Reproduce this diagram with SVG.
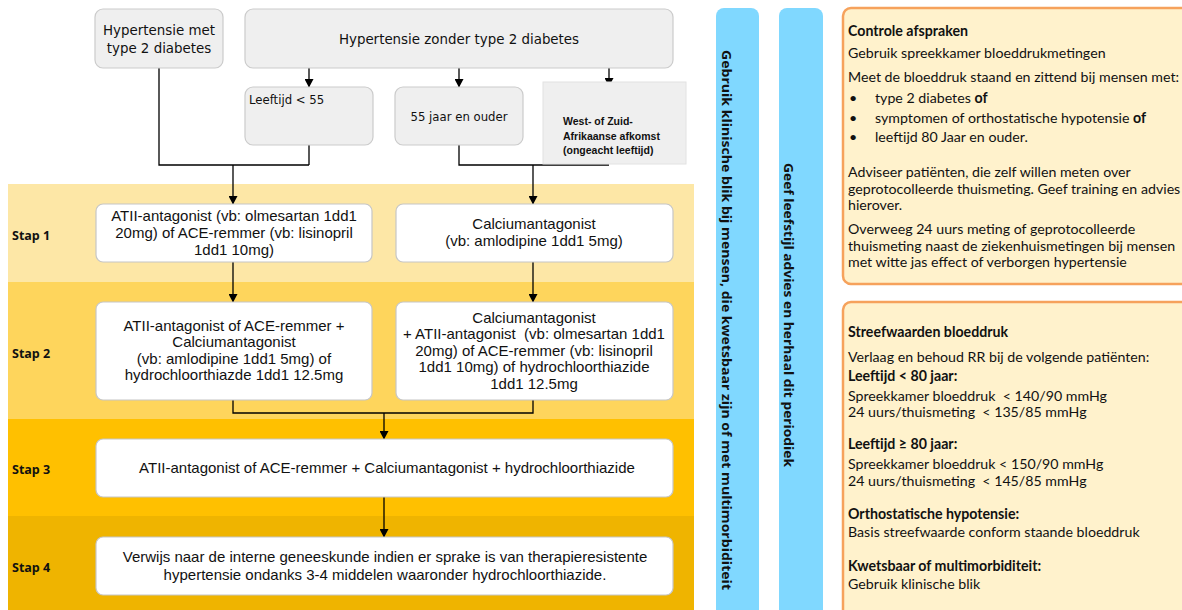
<svg xmlns="http://www.w3.org/2000/svg" width="1182" height="610" viewBox="0 0 1182 610">
<defs>
<marker id="arr" markerWidth="9" markerHeight="9" refX="8" refY="4.5" orient="auto" markerUnits="userSpaceOnUse">
<path d="M0,0 L8.5,4.5 L0,9 z" fill="#000"/>
</marker>
</defs>
<style>
.gbox{fill:#efefef;stroke:#cbcbcb;stroke-width:1.2}
.wbox{fill:#ffffff;stroke:#c6c6c6;stroke-width:1.2}
.tt{font-family:"DejaVu Sans",sans-serif;font-size:13.4px;fill:#111}
.ts{font-family:"DejaVu Sans",sans-serif;font-size:11.7px;fill:#111}
.wt{font-family:"Liberation Sans",Arial,sans-serif;font-size:10.5px;font-weight:bold;fill:#111}
.bt{font-family:"Liberation Sans",Arial,sans-serif;font-size:15px;fill:#111;text-anchor:middle;white-space:pre}
.stap{font-family:"Open Sans",sans-serif;font-size:12.5px;font-weight:bold;fill:#111}
.con{fill:none;stroke:#000;stroke-width:1.3}
.stripe{fill:#80d8ff}
.vt{font-family:"Open Sans",sans-serif;font-size:12.5px;font-weight:bold;fill:#111}
.panel{fill:#fff2cc;stroke:#f6a25c;stroke-width:2.5}
.pt{font-family:Lato,"Open Sans",sans-serif;font-size:14.2px;fill:#111;white-space:pre}
.b{font-weight:bold}
</style>

<g id="bands">
<rect x="8" y="184" width="686" height="98" fill="#fde7a6"/>
<rect x="8" y="282" width="686" height="137" fill="#fed55c"/>
<rect x="8" y="419" width="686" height="97" fill="#ffc000"/>
<rect x="8" y="516" width="686" height="94" fill="#efb400"/>
<text class="stap" x="12" y="240">Stap 1</text>
<text class="stap" x="12" y="358">Stap 2</text>
<text class="stap" x="12" y="474">Stap 3</text>
<text class="stap" x="12" y="572">Stap 4</text>
</g>

<g id="connectors">
<path class="con" d="M159,68 V165 H309 M309,145 V165"/>
<path class="con" d="M233,165 V204" marker-end="url(#arr)"/>
<path class="con" d="M309,68 V87" marker-end="url(#arr)"/>
<path class="con" d="M459,68 V87" marker-end="url(#arr)"/>
<path class="con" d="M609,68 V86" marker-end="url(#arr)"/>
<path class="con" d="M459,145 V165 H609"/>
<path class="con" d="M533,165 V204" marker-end="url(#arr)"/>
<path class="con" d="M233,262 V302" marker-end="url(#arr)"/>
<path class="con" d="M533,262 V302" marker-end="url(#arr)"/>
<path class="con" d="M233,400 V413 H533 V400"/>
<path class="con" d="M384,413 V439" marker-end="url(#arr)"/>
<path class="con" d="M384,497 V537" marker-end="url(#arr)"/>
</g>

<g id="n-met-diabetes">
<rect class="gbox" x="95" y="9" width="128" height="59" rx="8"/>
<text class="tt" x="159" y="35" text-anchor="middle">Hypertensie met</text>
<text class="tt" x="159" y="53" text-anchor="middle">type 2 diabetes</text>
</g>
<g id="n-zonder-diabetes">
<rect class="gbox" x="245" y="9" width="428" height="59" rx="8"/>
<text class="tt" x="459" y="44" text-anchor="middle">Hypertensie zonder type 2 diabetes</text>
</g>
<g id="n-leeftijd55">
<rect class="gbox" x="245" y="87" width="128" height="58" rx="8"/>
<text class="ts" x="249" y="104">Leeftijd &lt; 55</text>
</g>
<g id="n-55ouder">
<rect class="gbox" x="395" y="87" width="128" height="58" rx="8"/>
<text class="ts" x="459" y="121" text-anchor="middle">55 jaar en ouder</text>
</g>
<g id="n-afkomst">
<rect x="543" y="82" width="143" height="82" fill="#efefef" stroke="#e2e2e2" stroke-width="1"/>
<text class="wt" x="563" y="125">West- of Zuid-</text>
<text class="wt" x="563" y="140">Afrikaanse afkomst</text>
<text class="wt" x="563" y="154">(ongeacht leeftijd)</text>
</g>

<g id="n-stap1-links">
<rect class="wbox" x="96" y="204" width="276" height="58" rx="7"/>
<text class="bt" x="234" y="221">ATII-antagonist (vb: olmesartan 1dd1</text>
<text class="bt" x="234" y="238">20mg) of ACE-remmer (vb: lisinopril</text>
<text class="bt" x="234" y="255">1dd1 10mg)</text>
</g>
<g id="n-stap1-rechts">
<rect class="wbox" x="396" y="204" width="277" height="58" rx="7"/>
<text class="bt" x="534" y="229">Calciumantagonist</text>
<text class="bt" x="534" y="246">(vb: amlodipine 1dd1 5mg)</text>
</g>
<g id="n-stap2-links">
<rect class="wbox" x="96" y="302" width="276" height="98" rx="7"/>
<text class="bt" x="234" y="331">ATII-antagonist of ACE-remmer +</text>
<text class="bt" x="234" y="347">Calciumantagonist</text>
<text class="bt" x="234" y="364">(vb: amlodipine 1dd1 5mg) of</text>
<text class="bt" x="234" y="380">hydrochloorthiazde 1dd1 12.5mg</text>
</g>
<g id="n-stap2-rechts">
<rect class="wbox" x="396" y="302" width="277" height="98" rx="7"/>
<text class="bt" x="534" y="323">Calciumantagonist</text>
<text class="bt" x="534" y="339">+ ATII-antagonist  (vb: olmesartan 1dd1</text>
<text class="bt" x="534" y="356">20mg) of ACE-remmer (vb: lisinopril</text>
<text class="bt" x="534" y="372">1dd1 10mg) of hydrochloorthiazide</text>
<text class="bt" x="534" y="389">1dd1 12.5mg</text>
</g>
<g id="n-stap3">
<rect class="wbox" x="96" y="439" width="577" height="58" rx="7"/>
<text class="bt" x="387" y="473">ATII-antagonist of ACE-remmer + Calciumantagonist + hydrochloorthiazide</text>
</g>
<g id="n-stap4">
<rect class="wbox" x="96" y="537" width="577" height="58" rx="7"/>
<text class="bt" x="385" y="562">Verwijs naar de interne geneeskunde indien er sprake is van therapieresistente</text>
<text class="bt" x="385" y="580">hypertensie ondanks 3-4 middelen waaronder hydrochloorthiazide.</text>
</g>

<g id="n-stripe-klinisch">
<rect class="stripe" x="716" y="8" width="43" height="612" rx="8"/>
<text class="vt" transform="translate(722,50) rotate(90)" textLength="540" lengthAdjust="spacingAndGlyphs">Gebruik klinische blik bij mensen, die kwetsbaar zijn of met multimorbiditeit</text>
</g>
<g id="n-stripe-leefstijl">
<rect class="stripe" x="779" y="8" width="44" height="612" rx="8"/>
<text class="vt" transform="translate(784,163) rotate(90)" textLength="304" lengthAdjust="spacingAndGlyphs">Geef leefstijl advies en herhaal dit periodiek</text>
</g>

<g id="n-controle">
<rect class="panel" x="843" y="8" width="360" height="276" rx="8"/>
<text class="pt b" x="848" y="36">Controle afspraken</text>
<text class="pt" x="848" y="58">Gebruik spreekkamer bloeddrukmetingen</text>
<text class="pt" x="848" y="82">Meet de bloeddruk staand en zittend bij mensen met:</text>
<text class="pt" x="849" y="103">•</text>
<text class="pt" x="875" y="103">type 2 diabetes <tspan class="b">of</tspan></text>
<text class="pt" x="849" y="123">•</text>
<text class="pt" x="875" y="123">symptomen of orthostatische hypotensie <tspan class="b">of</tspan></text>
<text class="pt" x="849" y="142">•</text>
<text class="pt" x="875" y="142">leeftijd 80 Jaar en ouder.</text>
<text class="pt" x="848" y="177">Adviseer patiënten, die zelf willen meten over</text>
<text class="pt" x="848" y="194">geprotocolleerde thuismeting. Geef training en advies</text>
<text class="pt" x="848" y="210">hierover.</text>
<text class="pt" x="848" y="234">Overweeg 24 uurs meting of geprotocolleerde</text>
<text class="pt" x="848" y="251">thuismeting naast de ziekenhuismetingen bij mensen</text>
<text class="pt" x="848" y="267">met witte jas effect of verborgen hypertensie</text>
</g>
<g id="n-streefwaarden">
<rect class="panel" x="843" y="302" width="360" height="330" rx="8"/>
<text class="pt b" x="848" y="337">Streefwaarden bloeddruk</text>
<text class="pt" x="848" y="362">Verlaag en behoud RR bij de volgende patiënten:</text>
<text class="pt b" x="848" y="381">Leeftijd &lt; 80 jaar:</text>
<text class="pt" x="848" y="401">Spreekkamer bloeddruk  &lt; 140/90 mmHg</text>
<text class="pt" x="848" y="417">24 uurs/thuismeting  &lt; 135/85 mmHg</text>
<text class="pt b" x="848" y="449">Leeftijd ≥ 80 jaar:</text>
<text class="pt" x="848" y="469">Spreekkamer bloeddruk &lt; 150/90 mmHg</text>
<text class="pt" x="848" y="486">24 uurs/thuismeting  &lt; 145/85 mmHg</text>
<text class="pt b" x="848" y="519">Orthostatische hypotensie:</text>
<text class="pt" x="848" y="537">Basis streefwaarde conform staande bloeddruk</text>
<text class="pt b" x="848" y="571">Kwetsbaar of multimorbiditeit:</text>
<text class="pt" x="848" y="589">Gebruik klinische blik</text>
</g>
</svg>
